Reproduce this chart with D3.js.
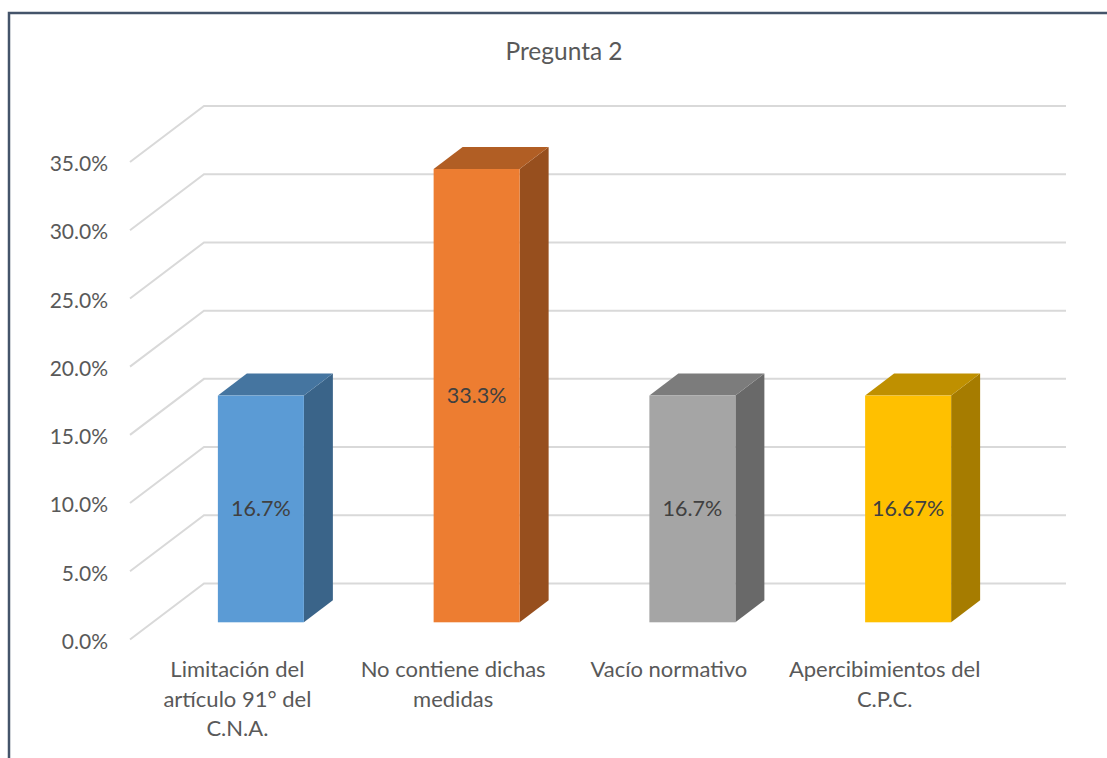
<!DOCTYPE html>
<html>
<head>
<meta charset="utf-8">
<script src="https://cdn.jsdelivr.net/npm/d3@7"></script>
<style>
  body { margin: 0; background: #fff; }
  svg { display: block; }
  text { font-family: Lato, "Open Sans", sans-serif; }
</style>
</head>
<body>
<div id="plot"></div>
<script>
const titleText = "Pregunta 2";
const categories = ["Limitación del artículo 91° del C.N.A.", "No contiene dichas medidas", "Vacío normativo", "Apercibimientos del C.P.C."];
const categoryLines = [["Limitación del", "artículo 91° del", "C.N.A."], ["No contiene dichas", "medidas"], ["Vacío normativo"], ["Apercibimientos del", "C.P.C."]];
const values = [16.67, 33.33, 16.67, 16.67];
const valueLabels = ["16.7%", "33.3%", "16.7%", "16.67%"];
const yTicks = [0, 5, 10, 15, 20, 25, 30, 35];
const frontColors = ["#5b9bd5", "#ed7d31", "#a5a5a5", "#ffc000"];
const topColors = ["#4575a0", "#b15e24", "#7c7c7c", "#bf9000"];
const sideColors = ["#3a6489", "#974f1e", "#696969", "#a67c00"];

const svgWidth = 1107, svgHeight = 758;
// oblique depth of the floor, and of the bars standing on it
const wallDx = 74, wallDy = -56;
const barDx = 29, barDy = -22;
const barWidth = 86;

const svg = d3.select("#plot")
    .append("svg")
    .attr("width", svgWidth)
    .attr("height", svgHeight);

// chart frame, runs off the right and bottom of the picture
svg.append("path")
    .attr("d", "M9," + svgHeight + "V13H" + svgWidth)
    .attr("fill", "none")
    .attr("stroke", "#44546a")
    .attr("stroke-width", 2.5);

svg.append("text")
    .attr("x", 564)
    .attr("y", 60)
    .attr("text-anchor", "middle")
    .attr("font-size", 24.5)
    .attr("fill", "#595959")
    .text(titleText);

const y = d3.scaleLinear().domain([0, 35]).range([639.5, 162]);
const x = d3.scaleBand().domain(categories).range([153, 1016]);
const barHeight = d3.scaleLinear().domain([0, 35]).range([0, 476]);
const baseY = 622.3;

// Show the gridlines: diagonal on the floor side, then flat on the back wall
svg.selectAll(".grid")
    .data(yTicks)
    .enter()
    .append("path")
    .attr("class", "grid")
    .attr("fill", "none")
    .attr("stroke", "#d9d9d9")
    .attr("stroke-width", 2)
    .attr("d", function(d) {
        return "M130," + y(d) + "l" + wallDx + "," + wallDy + "H1066";
    });

// Show the Y axis
const axis = svg.append("g")
    .attr("transform", "translate(108,2)")
    .call(d3.axisLeft(y).tickValues(yTicks).tickSize(0).tickPadding(0).tickFormat(function(d) { return d3.format(".1f")(d) + "%"; }));
axis.select(".domain").remove();
axis.selectAll("text")
    .attr("font-family", "Lato, 'Open Sans', sans-serif")
    .attr("font-size", 21)
    .attr("fill", "#595959");

// Show the bars
const bars = svg.selectAll(".bar")
    .data(categories)
    .enter()
    .append("g")
    .attr("class", "bar")
    .attr("transform", function(d) { return "translate(" + (x(d) + x.bandwidth() / 2 - barWidth / 2) + "," + baseY + ")"; });

bars.append("path")
    .attr("fill", function(d, i) { return sideColors[i]; })
    .attr("d", function(d, i) {
        const h = barHeight(values[i]);
        return "M" + barWidth + ",0l" + barDx + "," + barDy + "v" + (-h) + "l" + (-barDx) + "," + (-barDy) + "z";
    });

bars.append("path")
    .attr("fill", function(d, i) { return topColors[i]; })
    .attr("d", function(d, i) {
        const h = barHeight(values[i]);
        return "M0," + (-h) + "l" + barDx + "," + barDy + "h" + barWidth + "l" + (-barDx) + "," + (-barDy) + "z";
    });

bars.append("rect")
    .attr("x", 0)
    .attr("y", function(d, i) { return -barHeight(values[i]); })
    .attr("width", barWidth)
    .attr("height", function(d, i) { return barHeight(values[i]); })
    .attr("fill", function(d, i) { return frontColors[i]; });

bars.append("text")
    .attr("x", barWidth / 2)
    .attr("y", function(d, i) { return -barHeight(values[i]) / 2; })
    .attr("dy", "0.35em")
    .attr("text-anchor", "middle")
    .attr("font-size", 21.5)
    .attr("fill", "#404040")
    .text(function(d, i) { return valueLabels[i]; });

// Category labels sit left of the bar centres, on the floor edge
svg.selectAll(".cat")
    .data(categories)
    .enter()
    .append("text")
    .attr("class", "cat")
    .attr("text-anchor", "middle")
    .attr("font-size", 22)
    .attr("fill", "#595959")
    .each(function(d, i) {
        d3.select(this).selectAll("tspan")
            .data(categoryLines[i])
            .enter()
            .append("tspan")
            .attr("x", x(d) + x.bandwidth() / 2 - 23.5)
            .attr("y", function(line, j) { return 677 + j * 29.5; })
            .text(function(line) { return line; });
    });
</script>
</body>
</html>
